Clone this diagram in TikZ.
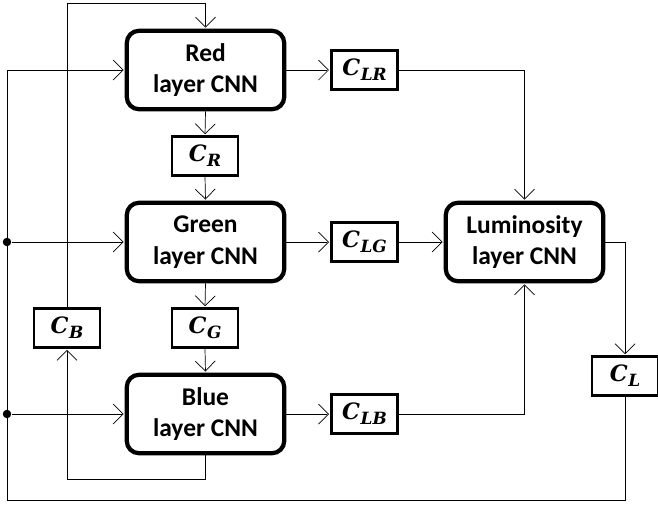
\documentclass[tikz,border=0pt]{standalone}
\usepackage{fontspec}
\setmainfont{Carlito}
\newfontfamily\cfont{DejaVu Serif}[BoldItalicFont={* Bold Italic}]
\newcommand{\cvar}[1]{{\cfont\bfseries\itshape C\kern0.3pt\raisebox{-0.45ex}{\fontsize{9.6}{10}\selectfont #1}}}
\usetikzlibrary{arrows.meta}

\begin{document}
\begin{tikzpicture}[x=0.02cm, y=-0.02cm]
\tikzset{ >={Straight Barb[length=2mm,width=4mm,line width=1.3pt]}, line width=1.3pt,
  layer/.style={draw, line width=2.4pt, rounded corners=7pt, minimum width=3.15cm, minimum height=1.57cm,
    align=center, font=\fontsize{14.5}{18}\selectfont\bfseries, inner sep=0pt},
  cbox/.style={draw, line width=1.6pt, minimum width=1.32cm, minimum height=0.77cm, inner sep=0pt,
    font=\fontsize{12.8}{14}\selectfont},
  dot/.style={fill=black, circle, inner sep=0pt, minimum size=0.17cm},
}
%\draw [lightgray, dashed](0,0) grid (658,508);
\useasboundingbox (0,0) rectangle (658,508);

\node [layer] (red)   at (205.5,70)  {Red\\layer CNN};
\node [layer] (green) at (205.5,242) {Green\\layer CNN};
\node [layer] (blue)  at (205.5,414) {Blue\\layer CNN};
\node [layer] (lum)   at (524.5,242) {Luminosity\\layer CNN};

\node [cbox] (cr)  at (205,156)   {\cvar{R}};
\node [cbox] (cg)  at (205,328)   {\cvar{G}};
\node [cbox] (cb)  at (67,328)    {\cvar{B}};
\node [cbox] (clr) at (364.5,70)  {\cvar{LR}};
\node [cbox] (clg) at (364.5,242) {\cvar{LG}};
\node [cbox] (clb) at (364.5,414) {\cvar{LB}};
\node [cbox] (cl)  at (625,376)   {\cvar{L}};

\node [dot] (dg) at (7,242) {};
\node [dot] (db) at (7,414) {};
\coordinate (tl) at (7,70);
\coordinate (bl) at (7,500);
\coordinate (tp) at (0,3);
\coordinate (bb) at (0,479);

% vertical chain
\draw [->] (red.south)   -- (cr.north);
\draw [->] (cr.south)    -- (green.north);
\draw [->] (green.south) -- (cg.north);
\draw [->] (cg.south)    -- (blue.north);

% to the luminosity layer
\draw [->] (red.east)   -- (clr.west);
\draw [->] (green.east) -- (clg.west);
\draw [->] (blue.east)  -- (clb.west);
\draw [->] (clr.east) -| (lum.north);
\draw [->] (clg.east) -- (lum.west);
\draw [->] (clb.east) -| (lum.south);
\draw [->] (lum.east) -| (cl.north);

% feedback
\draw [->] (cl.south) |- (bl) -- (tl) -- (red.west);
\draw [->] (dg) -- (green.west);
\draw [->] (db) -- (blue.west);
\draw [->] (blue.south) -- (blue.south |- bb) -| (cb.south);
\draw [->] (cb.north) -- (cb.north |- tp) -| (red.north);

\end{tikzpicture}
\end{document}
